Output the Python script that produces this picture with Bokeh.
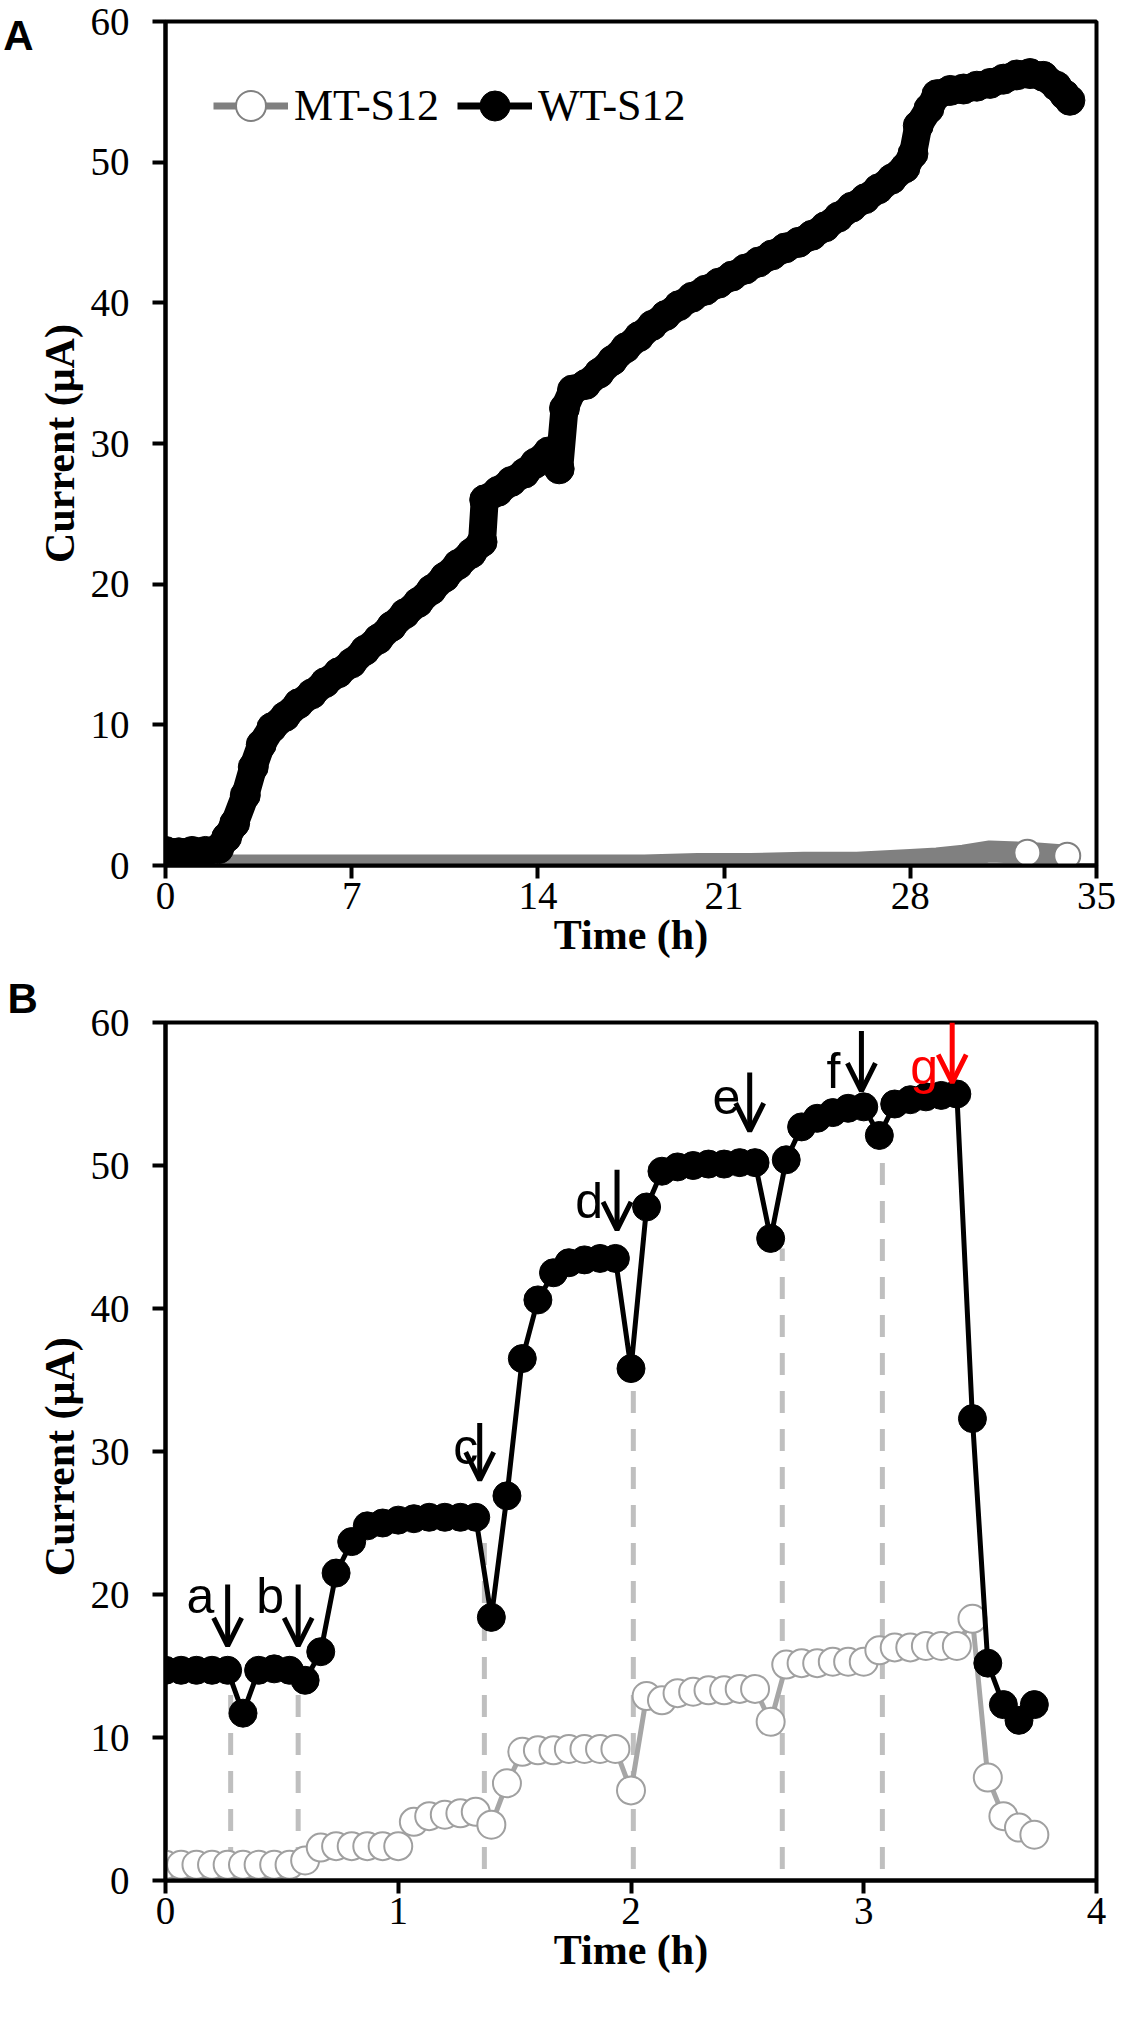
from bokeh.plotting import figure
from bokeh.layouts import column
from bokeh.models import (Legend, LegendItem, Arrow, OpenHead, Range1d,
                          FixedTicker, LinearAxis, Title)
from bokeh.embed import file_html
from bokeh.resources import INLINE
from bokeh.core.properties import value

# ---------------- Panel A data ----------------
a_wt_time = [0.0, 0.5, 1.0, 1.5, 2.0, 2.3, 2.6, 3.0, 3.3, 3.6, 4.0, 4.5, 5.0, 5.5,
             6.0, 6.5, 7.0, 7.5, 8.0, 8.5, 9.0, 9.5, 10.0, 10.5, 11.0, 11.5, 11.9,
             12.0, 12.5, 13.0, 13.5, 13.9, 14.4, 14.8, 15.0, 15.3, 15.8, 16.3, 16.8,
             17.3, 17.8, 18.3, 18.8, 19.3, 19.8, 20.3, 20.8, 21.3, 21.8, 22.3, 22.8,
             23.3, 23.8, 24.3, 24.8, 25.3, 25.8, 26.3, 26.8, 27.3, 27.8, 28.1, 28.3,
             28.7, 29.0, 29.5, 30.0, 30.5, 31.0, 31.5, 32.0, 32.5, 33.0, 33.5, 33.8,
             34.0]
a_wt_current = [1.0, 0.9, 1.0, 1.0, 1.2, 2.0, 3.0, 5.0, 7.0, 8.6, 9.8, 10.6, 11.5,
                12.2, 13.0, 13.7, 14.4, 15.3, 16.1, 17.0, 17.9, 18.7, 19.6, 20.5,
                21.4, 22.2, 23.0, 26.0, 26.6, 27.3, 27.9, 28.6, 29.4, 28.2, 32.5,
                33.8, 34.2, 35.0, 35.9, 36.8, 37.6, 38.4, 39.1, 39.8, 40.4, 40.9,
                41.4, 41.9, 42.4, 42.9, 43.4, 43.9, 44.3, 44.8, 45.4, 46.1, 46.8,
                47.4, 48.1, 48.8, 49.6, 50.6, 52.6, 53.8, 54.8, 55.1, 55.2, 55.4,
                55.6, 55.9, 56.2, 56.3, 56.1, 55.4, 54.8, 54.4]
a_mt_time = [0, 2, 4, 6, 8, 10, 12, 14, 16, 18, 20, 22, 24, 26, 28, 29, 30, 31,
             32.4, 33.9]
a_mt_current = [0.0, 0.0, 0.0, 0.0, 0.0, 0.0, 0.0, 0.0, 0.0, 0.0, 0.1, 0.1, 0.2,
                0.2, 0.4, 0.5, 0.7, 1.0, 0.9, 0.7]
a_x_ticks = [0, 7, 14, 21, 28, 35]
y_ticks = [0, 10, 20, 30, 40, 50, 60]

# ---------------- Panel B data ----------------
b_time = [0.000, 0.067, 0.133, 0.200, 0.267, 0.333, 0.400, 0.467, 0.533, 0.600,
          0.667, 0.733, 0.800, 0.867, 0.933, 1.000, 1.067, 1.133, 1.200, 1.267,
          1.333, 1.400, 1.467, 1.533, 1.600, 1.667, 1.733, 1.800, 1.867, 1.933,
          2.000, 2.067, 2.133, 2.200, 2.267, 2.333, 2.400, 2.467, 2.533, 2.600,
          2.667, 2.733, 2.800, 2.867, 2.933, 3.000, 3.067, 3.133, 3.200, 3.267,
          3.333, 3.400, 3.467, 3.533, 3.600, 3.667, 3.733]
b_wt = [14.7, 14.7, 14.7, 14.7, 14.7, 11.7, 14.7, 14.8, 14.7, 14.0,
        16.0, 21.5, 23.7, 24.8, 25.0, 25.2, 25.3, 25.4, 25.4, 25.4,
        25.4, 18.4, 26.9, 36.5, 40.6, 42.5, 43.2, 43.4, 43.5, 43.5,
        35.8, 47.1, 49.6, 49.9, 50.0, 50.1, 50.1, 50.2, 50.2, 44.9,
        50.4, 52.7, 53.3, 53.7, 54.0, 54.1, 52.1, 54.3, 54.6, 54.8,
        54.9, 55.0, 32.3, 15.2, 12.3, 11.2, 12.3]
b_mt = [1.1, 1.1, 1.1, 1.1, 1.1, 1.1, 1.1, 1.1, 1.1, 1.4,
        2.3, 2.4, 2.4, 2.4, 2.4, 2.4, 4.1, 4.5, 4.6, 4.7,
        4.8, 3.9, 6.8, 9.0, 9.1, 9.1, 9.2, 9.2, 9.2, 9.2,
        6.3, 12.9, 12.6, 13.1, 13.2, 13.3, 13.3, 13.4, 13.4, 11.1,
        15.1, 15.2, 15.2, 15.3, 15.3, 15.3, 16.1, 16.3, 16.3, 16.4,
        16.4, 16.4, 18.3, 7.2, 4.5, 3.7, 3.2]
b_x_ticks = [0, 1, 2, 3, 4]

# additions (arrows) and sampling guides
add_labels = ["a", "b", "c", "d", "e", "f", "g"]
add_colors = ["black"] * 6 + ["#FF0000"]
add_x = [0.267, 0.57, 1.35, 1.94, 2.51, 2.99, 3.38]
add_top = [20.7, 20.7, 32.0, 49.7, 56.5, 59.4, 60.0]
add_tip = [16.4, 16.4, 28.0, 45.5, 52.4, 55.2, 55.8]
add_label_x = [0.15, 0.45, 1.29, 1.82, 2.41, 2.87, 3.26]
add_label_y = [19.9, 19.9, 30.3, 47.5, 54.8, 56.6, 56.9]
guide_x = [0.28, 0.57, 1.37, 2.01, 2.65, 3.08]
guide_top = [13.1, 13.3, 24.0, 34.7, 44.2, 51.5]
guide_bottom = [0.8, 0.8, 0.8, 0.8, 0.8, 0.8]

SERIF = "Liberation Serif"
SANS = "Liberation Sans"
WIDTH = 1118


def style(p, xticks):
    p.outline_line_color = "black"
    p.outline_line_width = 4
    p.xgrid.visible = False
    p.ygrid.visible = False
    p.background_fill_color = "white"
    p.border_fill_color = "white"
    p.xaxis.ticker = FixedTicker(ticks=xticks)
    p.yaxis.ticker = FixedTicker(ticks=y_ticks)
    for ax in (p.xaxis[0], p.yaxis[0]):
        ax.axis_line_width = 4
        ax.axis_line_color = "black"
        ax.major_tick_line_width = 4
        ax.major_tick_line_color = "black"
        ax.major_tick_out = 13
        ax.major_tick_in = 0
        ax.minor_tick_line_color = None
        ax.major_label_text_font = SERIF
        ax.major_label_text_font_size = "39px"
        ax.major_label_text_color = "black"
        ax.axis_label_text_font = SERIF
        ax.axis_label_text_font_style = "bold"
        ax.axis_label_text_font_size = "42px"
        ax.axis_label_text_color = "black"
    p.xaxis[0].major_label_standoff = 4
    p.xaxis[0].axis_label_standoff = 0
    p.yaxis[0].major_label_standoff = 23
    p.yaxis[0].axis_label_standoff = 5


# ---------------- Panel A ----------------
pA = figure(width=WIDTH, height=972, output_backend="svg", toolbar_location=None,
            x_range=Range1d(0, 35), y_range=Range1d(0, 60),
            min_border_left=159, min_border_right=22, min_border_top=21,
            min_border_bottom=107, x_axis_label="Time (h)",
            y_axis_label="Current (μA)")
style(pA, a_x_ticks)

pA.line(a_mt_time, a_mt_current, line_color="#808080", line_width=22)
pA.scatter(a_mt_time[-2:], a_mt_current[-2:], marker="circle", size=26,
           fill_color="white", line_color="#808080", line_width=2)
pA.line(a_wt_time, a_wt_current, line_color="black", line_width=28)
pA.scatter(a_wt_time, a_wt_current, marker="circle", size=30,
           fill_color="black", line_color="black")

# legend proxies (hidden renderers carrying real points)
lg_mt_l = pA.line(a_mt_time[:2], a_mt_current[:2], line_color="#808080",
                  line_width=7, visible=False)
lg_mt_s = pA.scatter(a_mt_time[:1], a_mt_current[:1], marker="circle",
                     fill_color="white", line_color="#808080", line_width=2,
                     visible=False)
lg_wt_l = pA.line(a_wt_time[:2], a_wt_current[:2], line_color="black",
                  line_width=7, visible=False)
lg_wt_s = pA.scatter(a_wt_time[:1], a_wt_current[:1], marker="circle",
                     fill_color="black", line_color="black", visible=False)
legend = Legend(items=[LegendItem(label="MT-S12", renderers=[lg_mt_l, lg_mt_s]),
                       LegendItem(label="WT-S12", renderers=[lg_wt_l, lg_wt_s])],
                orientation="horizontal", location=(48, 722),
                border_line_color=None, background_fill_alpha=0,
                label_text_font=SERIF, label_text_font_size="44px",
                label_text_color="black", inactive_fill_alpha=0,
                glyph_width=75, glyph_height=75, spacing=18, label_standoff=6,
                padding=0, margin=0)
pA.add_layout(legend, "center")

# panel letter "A" as an outer, line-less axis carrying one label
letter_axis = LinearAxis(ticker=FixedTicker(ticks=[59.0]),
                         major_label_overrides={59.0: "A"},
                         axis_line_color=None, major_tick_line_color=None,
                         minor_tick_line_color=None, major_tick_out=0,
                         major_tick_in=0, major_label_standoff=0,
                         major_label_text_font=SANS,
                         major_label_text_font_style="bold",
                         major_label_text_font_size="42px",
                         major_label_text_color="black")
pA.add_layout(letter_axis, "left")

# ---------------- Panel B ----------------
pB = figure(width=WIDTH, height=1029, output_backend="svg", toolbar_location=None,
            x_range=Range1d(0, 4), y_range=Range1d(0, 60),
            min_border_left=159, min_border_right=22, min_border_top=48,
            min_border_bottom=121, x_axis_label="Time (h)",
            y_axis_label="Current  (μA)")
style(pB, b_x_ticks)
pB.add_layout(Title(text="B", align="left", offset=-158, standoff=1,
                    text_font=SANS, text_font_style="bold",
                    text_font_size="42px", text_color="black"), "above")

pB.segment(x0=guide_x, y0=guide_bottom, x1=guide_x, y1=guide_top,
           line_color="#BFBFBF", line_width=5, line_dash="22 16")
pB.line(b_time, b_mt, line_color="#A6A6A6", line_width=5)
pB.scatter(b_time, b_mt, marker="circle", size=28, fill_color="white",
           line_color="#A0A0A0", line_width=2)
pB.line(b_time, b_wt, line_color="black", line_width=5)
pB.scatter(b_time, b_wt, marker="circle", size=28, fill_color="black",
           line_color="black")

for xa, yt, yb, col in zip(add_x, add_top, add_tip, add_colors):
    pB.add_layout(Arrow(x_start=xa, y_start=yt, x_end=xa, y_end=yb,
                        line_color=col, line_width=5,
                        end=OpenHead(size=28, line_width=5, line_color=col)))
pB.text(x=add_label_x, y=add_label_y, text=add_labels, text_color=add_colors,
        text_font=value(SANS), text_font_size=value("50px"), text_align="center",
        text_baseline="alphabetic")

layout = column(pA, pB, spacing=0)
open("out.html", "w").write(file_html(layout, INLINE))
